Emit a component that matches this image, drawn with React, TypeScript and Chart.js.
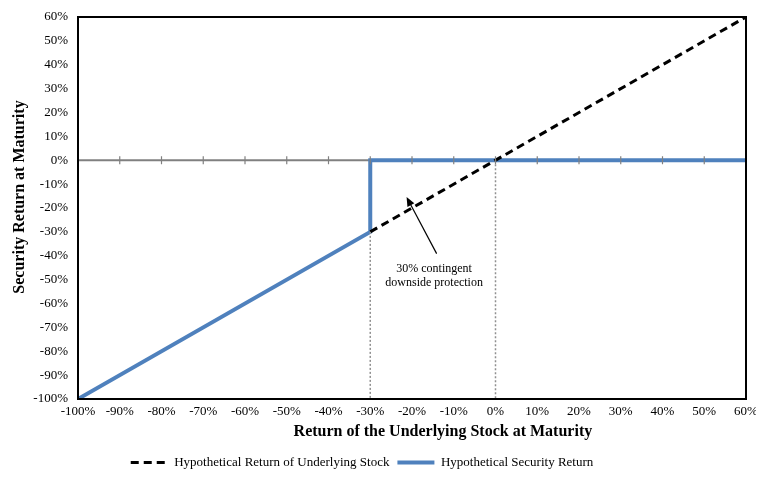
import React, { useEffect, useRef } from "react";
import { Chart, registerables } from "chart.js";

Chart.register(...registerables);

// ---- Data ----
const stockX = [-30, 60];
const stockY = [-30, 60];
const securityX = [-100, -30, -30, 60];
const securityY = [-100, -30, 0, 0];
const barrierX = [-30, -30];
const barrierY = [-30, -100];
const breakevenX = [0, 0];
const breakevenY = [0, -100];
const xTickValues = [-100, -90, -80, -70, -60, -50, -40, -30, -20, -10, 0, 10, 20, 30, 40, 50, 60];
const annotationLines = ["30% contingent", "downside protection"];
const annotationTextAt = [-14.7, -45.5];
const arrowFrom = [-14.1, -39.1];
const arrowTo = [-21.3, -15.4];
const legendLabels = ["Hypothetical Return of Underlying Stock", "Hypothetical Security Return"];
const xTitle = "Return of the Underlying Stock at Maturity";
const yTitle = "Security Return at Maturity";

const FONT = "'Liberation Serif', 'DejaVu Serif', serif";
const BLUE = "#4F81BD";

const toPts = (xs: number[], ys: number[]) => xs.map((x, i) => ({ x, y: ys[i] }));

const decorPlugin = {
  id: "decor",
  afterLayout(chart: any) {
    const lg = chart.legend;
    if (lg) {
      lg.left -= 24;
      lg.right -= 24;
      if (lg.legendHitBoxes) lg.legendHitBoxes.forEach((b: any) => (b.left -= 24));
    }
  },
  beforeDatasetsDraw(chart: any) {
    const { ctx, chartArea, scales } = chart;
    const y = scales.y;
    ctx.save();
    const y0 = y.getPixelForValue(0);
    ctx.strokeStyle = "#808080";
    ctx.lineWidth = 2;
    ctx.beginPath();
    ctx.moveTo(chartArea.left, y0);
    ctx.lineTo(chartArea.right, y0);
    ctx.stroke();
    ctx.restore();
  },
  afterDatasetsDraw(chart: any) {
    const { ctx, chartArea, scales } = chart;
    const x = scales.x, y = scales.y;
    ctx.save();
    const y0 = y.getPixelForValue(0);
    ctx.strokeStyle = "#808080";
    ctx.lineWidth = 1.2;
    xTickValues.forEach((v) => {
      const px = x.getPixelForValue(v);
      if (px <= chartArea.left + 1 || px >= chartArea.right - 1) return;
      ctx.beginPath();
      ctx.moveTo(px, y0 - 4);
      ctx.lineTo(px, y0 + 4);
      ctx.stroke();
    });
    // frame
    ctx.strokeStyle = "#000";
    ctx.lineWidth = 2;
    ctx.strokeRect(chartArea.left, chartArea.top, chartArea.right - chartArea.left, chartArea.bottom - chartArea.top);

    // annotation arrow
    const ax1 = x.getPixelForValue(arrowFrom[0]);
    const ay1 = y.getPixelForValue(arrowFrom[1]);
    const ax2 = x.getPixelForValue(arrowTo[0]);
    const ay2 = y.getPixelForValue(arrowTo[1]);
    ctx.strokeStyle = "#000";
    ctx.fillStyle = "#000";
    ctx.lineWidth = 1.2;
    const ang = Math.atan2(ay2 - ay1, ax2 - ax1);
    const hl = 10;
    const bx = ax2 - Math.cos(ang) * hl * 0.8;
    const by = ay2 - Math.sin(ang) * hl * 0.8;
    ctx.beginPath();
    ctx.moveTo(ax1, ay1);
    ctx.lineTo(bx, by);
    ctx.stroke();
    ctx.beginPath();
    ctx.moveTo(ax2, ay2);
    ctx.lineTo(ax2 - hl * Math.cos(ang - 0.4), ay2 - hl * Math.sin(ang - 0.4));
    ctx.lineTo(ax2 - hl * Math.cos(ang + 0.4), ay2 - hl * Math.sin(ang + 0.4));
    ctx.closePath();
    ctx.fill();

    // annotation text
    ctx.font = `12px ${FONT}`;
    ctx.textAlign = "center";
    ctx.textBaseline = "middle";
    const tx = x.getPixelForValue(annotationTextAt[0]);
    const ty = y.getPixelForValue(annotationTextAt[1]);
    annotationLines.forEach((l, i) => ctx.fillText(l, tx, ty + i * 14));

    // axis titles
    ctx.font = `bold 16px ${FONT}`;
    ctx.fillText(xTitle, x.getPixelForValue(-12.6), chartArea.bottom + 33);
    ctx.save();
    ctx.translate(12, (chartArea.top + chartArea.bottom) / 2 - 11);
    ctx.rotate(-Math.PI / 2);
    ctx.fillText(yTitle, 0, 0);
    ctx.restore();
    ctx.restore();
  },
};

export default function App() {
  const ref = useRef<HTMLCanvasElement | null>(null);
  useEffect(() => {
    if (!ref.current) return;
    const chart = new Chart(ref.current, {
      type: "line",
      data: {
        datasets: [
          {
            label: "barrier",
            data: toPts(barrierX, barrierY),
            borderColor: "#909090",
            borderWidth: 1.5,
            borderDash: [2, 2],
            pointRadius: 0,
          },
          {
            label: "breakeven",
            data: toPts(breakevenX, breakevenY),
            borderColor: "#909090",
            borderWidth: 1.5,
            borderDash: [2, 2],
            pointRadius: 0,
          },
          {
            label: legendLabels[1],
            data: toPts(securityX, securityY),
            borderColor: BLUE,
            backgroundColor: BLUE,
            borderWidth: 4,
            pointRadius: 0,
            order: 2,
          },
          {
            label: legendLabels[0],
            data: toPts(stockX, stockY),
            borderColor: "#000",
            backgroundColor: "#000",
            borderWidth: 3,
            borderDash: [8, 5],
            pointRadius: 0,
            order: 1,
          },
        ],
      },
      options: {
        animation: false,
        responsive: true,
        maintainAspectRatio: false,
        layout: { padding: { top: 0, right: 0, left: 0, bottom: 0 } },
        plugins: {
          tooltip: { enabled: false },
          legend: {
            position: "bottom",
            labels: {
              generateLabels: (chart: any) =>
                chart.data.datasets
                  .map((ds: any, i: number) => ({ ds, i }))
                  .filter(({ ds }: any) => legendLabels.includes(ds.label))
                  .sort((a: any, b: any) => legendLabels.indexOf(a.ds.label) - legendLabels.indexOf(b.ds.label))
                  .map(({ ds, i }: any) => ({
                    text: ds.label,
                    datasetIndex: i,
                    fillStyle: ds.borderColor,
                    strokeStyle: ds.borderColor,
                    lineWidth: ds.borderWidth,
                    lineDash: ds.borderDash || [],
                    lineCap: "butt",
                    pointStyle: "line",
                    fontColor: "#000",
                    hidden: false,
                  })),
              usePointStyle: true,
              pointStyleWidth: 37,
              boxHeight: 13,
              color: "#000",
              font: { family: FONT, size: 13 },
              padding: 8,
            },
          },
        },
        scales: {
          x: {
            type: "linear",
            min: -100,
            max: 60,
            afterBuildTicks: (s: any) => {
              s.ticks = xTickValues.map((v) => ({ value: v }));
            },
            afterFit: (s: any) => {
              s.height = 49;
              s.paddingRight = 18;
              s.paddingLeft = 0;
            },
            grid: { display: false, drawTicks: false },
            border: { display: false },
            ticks: {
              padding: 5,
              maxRotation: 0,
              autoSkip: false,
              color: "#000",
              font: { family: FONT, size: 13 },
              callback: (v: any) => `${v}%`,
            },
          },
          y: {
            type: "linear",
            min: -100,
            max: 60,
            afterFit: (s: any) => {
              s.width = 70;
              s.paddingTop = 9;
              s.paddingBottom = 0;
            },
            grid: { display: false, drawTicks: false },
            border: { display: false },
            ticks: {
              stepSize: 10,
              padding: 10,
              color: "#000",
              font: { family: FONT, size: 13 },
              callback: (v: any) => `${v}%`,
            },
          },
        },
      },
      plugins: [decorPlugin],
    });
    return () => chart.destroy();
  }, []);
  return (
    <div style={{ width: 756, height: 471, marginRight: -8, position: "relative" }}>
      <canvas ref={ref} />
    </div>
  );
}
